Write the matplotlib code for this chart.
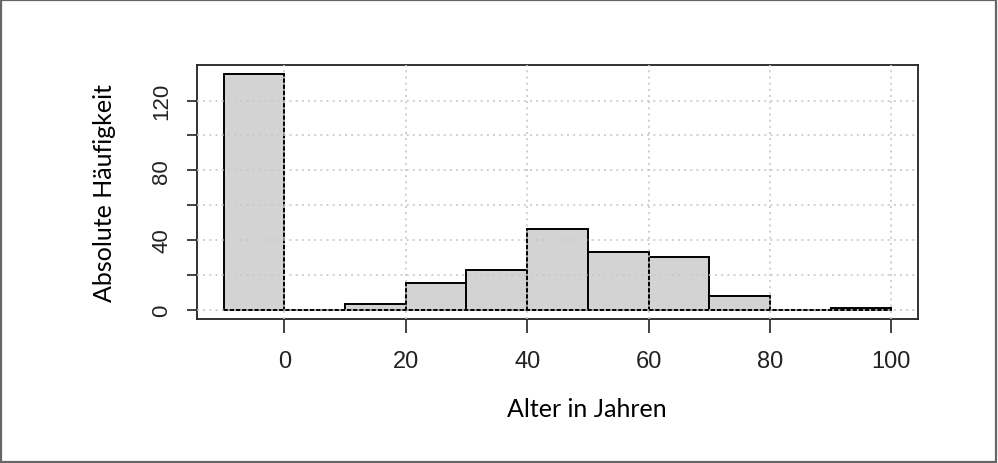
import matplotlib.pyplot as plt
from matplotlib.patches import Rectangle

plt.rcParams['font.family'] = 'Liberation Sans'

# Histogramm-Daten: Klassengrenzen und absolute Häufigkeiten
bin_left = [-10, 0, 10, 20, 30, 40, 50, 60, 70, 80, 90]
counts = [135, 0, 3, 15, 23, 46, 33, 30, 8, 0, 1]
x_ticks = [0, 20, 40, 60, 80, 100]
y_ticks = [0, 20, 40, 60, 80, 100, 120]
y_labels = ['0', '', '40', '', '80', '', '120']

fig = plt.figure(figsize=(9.98, 4.64), dpi=100)
ax = fig.add_axes([0.1974, 0.3103, 0.7224, 0.5475])

ax.bar(bin_left, counts, width=10, align='edge', color='#D3D3D3',
       edgecolor='black', linewidth=1.4, zorder=2)

ax.set_xlim(-14.4, 104.4)
ax.set_ylim(-5.4, 140.4)

# Gitter über den Balken (wie grid() in R)
for xv in x_ticks:
    ax.axvline(xv, color='#C8C8C8', linestyle=(0, (1.2, 2.5)), linewidth=1.2, zorder=3)
for yv in y_ticks:
    ax.axhline(yv, color='#C8C8C8', linestyle=(0, (1.2, 2.5)), linewidth=1.2, zorder=3)

ax.set_xticks(x_ticks)
ax.set_xticklabels([str(v) for v in x_ticks])
ax.set_yticks(y_ticks)
ax.set_yticklabels(y_labels, rotation=90, va='center')
ax.tick_params(axis='x', length=10, width=1.2, pad=12, colors='#222222', labelsize=17)
ax.tick_params(axis='y', length=7, width=1.2, pad=11, colors='#222222', labelsize=16)

for s in ax.spines.values():
    s.set_linewidth(1.3)
    s.set_color('#222222')

ax.set_xlabel('Alter in Jahren', fontfamily='Lato', fontsize=18)
ax.xaxis.set_label_coords(0.54, -0.305)
ax.xaxis.label.set_va('top')
ax.set_ylabel('Absolute Häufigkeit', fontfamily='Lato', fontsize=18)
ax.yaxis.set_label_coords(-0.128, 0.5)
ax.yaxis.label.set_va('center')

# Rahmen um die ganze Grafik
fig.patches.append(Rectangle((0.001, 0.002), 0.997, 0.996, transform=fig.transFigure,
                             fill=False, edgecolor='#666666', linewidth=1.6))

fig.savefig('out.png', dpi=100)
